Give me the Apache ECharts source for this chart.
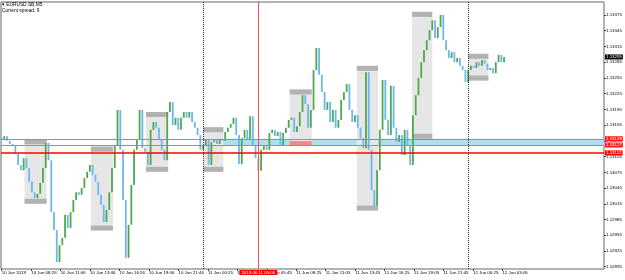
<!DOCTYPE html>
<html>
<head>
<meta charset="utf-8">
<script src="https://cdn.jsdelivr.net/npm/echarts@6/dist/echarts.min.js"></script>
<style>
html, body { margin: 0; padding: 0; background: #fff; }
#main { width: 625px; height: 280px; }
</style>
</head>
<body>
<div id="main"></div>
<script>
// EURUSD.SB M5, read every 15 minutes; time in minutes from 10 Jun 00:00
var startMin = 345;
var stepMin = 15;
var firstOpen = 1.13140;
var closes = [
  1.13137, 1.13144, 1.13135, 1.13129, 1.13125, 1.13110, 1.13089, 1.13079, 1.13102, 1.13083,
  1.13057, 1.13037, 1.13026, 1.13034, 1.13055, 1.13083, 1.13131, 1.13098, 1.12999, 1.12965,
  1.12904, 1.12936, 1.12950, 1.12994, 1.12969, 1.12999, 1.13022, 1.13037, 1.13032, 1.13045,
  1.13064, 1.13076, 1.13089, 1.13070, 1.13057, 1.13032, 1.13013, 1.12980, 1.13003, 1.13037,
  1.13083, 1.13127, 1.13194, 1.13118, 1.13022, 1.12912, 1.12975, 1.13051, 1.13118, 1.13137,
  1.13194, 1.13121, 1.13114, 1.13089, 1.13156, 1.13171, 1.13160, 1.13137, 1.13118, 1.13098,
  1.13190, 1.13209, 1.13165, 1.13179, 1.13156, 1.13179, 1.13190, 1.13179, 1.13190, 1.13171,
  1.13160, 1.13146, 1.13118, 1.13127, 1.13137, 1.13089, 1.13133, 1.13137, 1.13129, 1.13139,
  1.13135, 1.13152, 1.13160, 1.13167, 1.13179, 1.13146, 1.13091, 1.13140, 1.13156, 1.13137,
  1.13182, 1.13127, 1.13102, 1.13078, 1.13118, 1.13125, 1.13118, 1.13150, 1.13156, 1.13144,
  1.13152, 1.13127, 1.13150, 1.13160, 1.13175, 1.13179, 1.13152, 1.13163, 1.13190, 1.13222,
  1.13205, 1.13160, 1.13194, 1.13270, 1.13312, 1.13261, 1.13228, 1.13194, 1.13209, 1.13171,
  1.13194, 1.13160, 1.13175, 1.13213, 1.13228, 1.13243, 1.13194, 1.13171, 1.13184, 1.13160,
  1.13140, 1.13121, 1.13266, 1.13118, 1.13041, 1.13011, 1.13079, 1.13156, 1.13251, 1.13175,
  1.13146, 1.13240, 1.13160, 1.13133, 1.13146, 1.13108, 1.13156, 1.13127, 1.13089, 1.13184,
  1.13222, 1.13255, 1.13285, 1.13308, 1.13327, 1.13346, 1.13365, 1.13331, 1.13352, 1.13375,
  1.13327, 1.13308, 1.13293, 1.13304, 1.13285, 1.13293, 1.13278, 1.13270, 1.13247, 1.13270,
  1.13278, 1.13274, 1.13285, 1.13278, 1.13289, 1.13282, 1.13270, 1.13274, 1.13264, 1.13285,
  1.13299, 1.13285, 1.13295
];

// session range boxes
var boxStart = [470, 830, 1130, 1440, 1910, 2275, 2575, 2880];
var boxEnd   = [590, 950, 1250, 1550, 2030, 2390, 2685, 2990];
var boxHigh  = [1.13138, 1.13124, 1.13190, 1.13161, 1.13233, 1.13278, 1.13381, 1.13301];
var boxLow   = [1.13015, 1.12964, 1.13076, 1.13076, 1.13125, 1.13002, 1.13139, 1.13250];

// horizontal levels
var zoneTop = 1.13139;
var zoneBottom = 1.13127;
var redLevel = 1.13112;
var zoneFrom = 1440;
var daySeparators = [1440, 2880];
var crossMin = 1740;
var crossLabel = '2019.06.11 05:00';

var xTickMins = [346, 506, 666, 826, 986, 1146, 1306, 1466, 1626, 1786, 1946, 2106, 2266, 2426, 2586, 2746, 2906, 3066];
var xTickLabels = ['10 Jun 2019', '10 Jun 08:26', '10 Jun 11:06', '10 Jun 13:46', '10 Jun 16:26', '10 Jun 19:06',
  '10 Jun 21:46', '11 Jun 00:25', '11 Jun 03:05', '11 Jun 05:45', '11 Jun 08:25', '11 Jun 11:05',
  '11 Jun 13:45', '11 Jun 16:25', '11 Jun 19:05', '11 Jun 21:45', '12 Jun 00:25', '12 Jun 03:05'];
var yTicks = [1.12895, 1.12925, 1.12955, 1.12985, 1.13015, 1.13045, 1.13075, 1.13105, 1.13135,
  1.13165, 1.13195, 1.13225, 1.13255, 1.13285, 1.13315, 1.13345, 1.13375];

var upColor = '#4fa84f';
var downColor = '#6cb6f2';
var fs = 4.4;
var xMin = 342, xMax = 3618;

var candleData = closes.map(function (c, i) {
  return [startMin + i * stepMin, i ? closes[i - 1] : firstOpen, c];
});
var boxData = boxStart.map(function (s, i) {
  return [s, boxEnd[i], boxHigh[i], boxLow[i]];
});
var lastClose = closes[closes.length - 1];

// a horizontal level across the plot, with its price in a box on the axis
function level(value, color, width, boxColor) {
  return [
    {
      coord: [xMin, value],
      lineStyle: { color: color, width: width, type: 'solid' },
      label: {
        show: true, position: 'end', distance: 1,
        fontSize: fs, fontFamily: 'Liberation Sans',
        color: '#fff', backgroundColor: boxColor, padding: [1, 1, 0, 1],
        formatter: function () { return value.toFixed(5); }
      }
    },
    { coord: [xMax, value] }
  ];
}

var myChart = echarts.init(document.getElementById('main'));

var option = {
  backgroundColor: '#fff',
  animation: false,
  title: {
    text: '\u25BE EURUSD.SB,M5',
    subtext: 'Current spread: 9',
    left: 2, top: 2, padding: 0, itemGap: 1,
    textStyle: { fontSize: fs + 0.4, fontWeight: 'normal', color: '#000', fontFamily: 'Liberation Sans' },
    subtextStyle: { fontSize: fs + 0.4, color: '#000', fontFamily: 'Liberation Sans' }
  },
  grid: {
    left: 1, right: 21, top: 2, bottom: 11,
    show: true, borderColor: '#666', borderWidth: 1,
    outerBoundsMode: 'none'
  },
  xAxis: {
    type: 'value',
    min: xMin, max: xMax,
    splitLine: { show: false },
    axisLine: { show: false },
    axisTick: { show: true, length: 2, customValues: xTickMins, lineStyle: { color: '#444' } },
    axisLabel: {
      customValues: xTickMins,
      align: 'left', margin: 2,
      fontSize: fs, color: '#000', fontFamily: 'Liberation Sans',
      formatter: function (v) {
        return xTickLabels[Math.round((v - 346) / 160)] || '';
      }
    }
  },
  yAxis: {
    type: 'value',
    position: 'right',
    min: 1.128906, max: 1.133998,
    splitLine: { show: false },
    axisLine: { show: false },
    axisTick: { show: true, length: 2, customValues: yTicks, lineStyle: { color: '#444' } },
    axisLabel: {
      customValues: yTicks,
      margin: 2,
      fontSize: fs, color: '#000', fontFamily: 'Liberation Sans',
      formatter: function (v) { return v.toFixed(5); }
    }
  },
  series: [
    {
      name: 'ranges',
      type: 'custom',
      z: 1,
      data: boxData,
      encode: { x: [0, 1], y: [2, 3] },
      renderItem: function (params, api) {
        var p1 = api.coord([api.value(0), api.value(2)]);
        var p2 = api.coord([api.value(1), api.value(3)]);
        var w = p2[0] - p1[0];
        var h = p2[1] - p1[1];
        return {
          type: 'group',
          children: [
            { type: 'rect', shape: { x: p1[0], y: p1[1], width: w, height: h }, style: { fill: '#e6e6e6' } },
            { type: 'rect', shape: { x: p1[0], y: p1[1], width: w, height: 5 }, style: { fill: '#b2b2b2' } },
            { type: 'rect', shape: { x: p1[0], y: p2[1] - 5, width: w, height: 5 },
              style: { fill: params.dataIndex === 4 ? '#f28a84' : '#b2b2b2' } }
          ]
        };
      },
      markArea: {
        silent: true,
        itemStyle: { color: '#afe0e8' },
        data: [[{ xAxis: zoneFrom, yAxis: zoneTop }, { xAxis: xMax, yAxis: zoneBottom }]]
      }
    },
    {
      name: 'EURUSD',
      type: 'custom',
      z: 2,
      data: candleData,
      encode: { x: 0, y: [1, 2] },
      renderItem: function (params, api) {
        var t = api.value(0), o = api.value(1), c = api.value(2);
        var a = api.coord([t, o]);
        var b = api.coord([t, c]);
        var top = Math.min(a[1], b[1]);
        var h = Math.max(Math.abs(a[1] - b[1]), 1.2);
        return {
          type: 'rect',
          shape: { x: a[0] - 0.9, y: top, width: 1.8, height: h },
          style: { fill: c >= o ? upColor : downColor }
        };
      },
      markLine: {
        silent: true,
        symbol: ['none', 'none'],
        animation: false,
        data: [
          level(zoneTop, '#f26b6b', 1, '#ff1a1a'),
          level(zoneBottom, '#f26b6b', 1, '#ff1a1a'),
          level(redLevel, '#ff0000', 1.5, '#ff0000'),
          level(lastClose, 'rgba(0,0,0,0)', 1, '#000000'),
          {
            xAxis: daySeparators[0],
            lineStyle: { color: '#333', width: 1, type: 'dotted' },
            label: { show: false }
          },
          {
            xAxis: daySeparators[1],
            lineStyle: { color: '#333', width: 1, type: 'dotted' },
            label: { show: false }
          },
          {
            xAxis: crossMin,
            lineStyle: { color: '#ff4d4d', width: 1, type: 'solid' },
            label: {
              show: true, position: 'start', distance: 1,
              fontSize: fs, fontFamily: 'Liberation Sans',
              backgroundColor: '#ff0000', color: '#fff', padding: [1, 2, 0, 2],
              formatter: function () { return crossLabel; }
            }
          }
        ]
      }
    }
  ]
};

myChart.setOption(option);
</script>
</body>
</html>
